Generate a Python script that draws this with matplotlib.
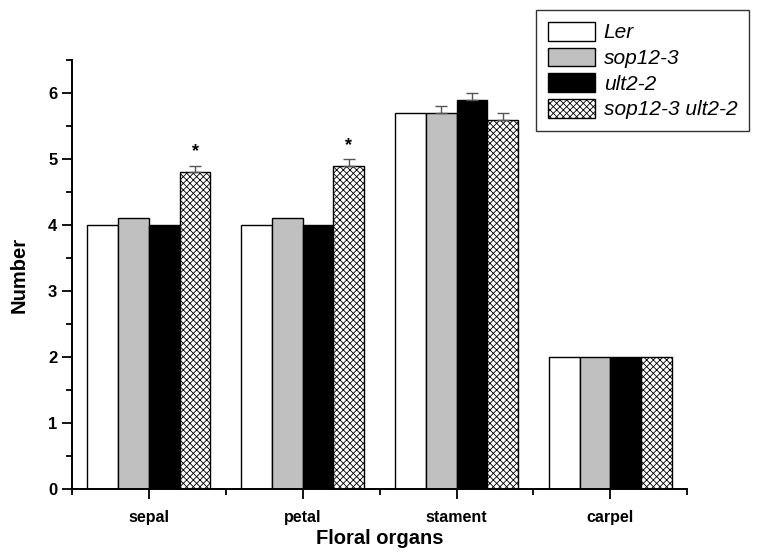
import numpy as np
import matplotlib
matplotlib.use("Agg")
import matplotlib.pyplot as plt

plt.rcParams['font.family'] = ['Liberation Sans', 'DejaVu Sans']
plt.rcParams['hatch.linewidth'] = 0.6
plt.rcParams['hatch.color'] = '#333333'

organs = ['sepal', 'petal', 'stament', 'carpel']
genotypes = ['Ler', 'sop12-3', 'ult2-2', 'sop12-3 ult2-2']
ler = [4.0, 4.0, 5.7, 2.0]
sop = [4.1, 4.1, 5.7, 2.0]
ult = [4.0, 4.0, 5.9, 2.0]
double = [4.8, 4.9, 5.6, 2.0]
err_ler = [0, 0, 0, 0]
err_sop = [0, 0, 0.1, 0]
err_ult = [0, 0, 0.1, 0]
err_double = [0.1, 0.1, 0.1, 0]
stars = ['*', '*', '', '']

fig = plt.figure(figsize=(7.57, 5.58), dpi=100)
ax = fig.add_axes([0.095, 0.124, 0.813, 0.768])

x = np.arange(len(organs))
w = 0.2
series = [ler, sop, ult, double]
errs = [err_ler, err_sop, err_ult, err_double]
styles = [dict(color='white'), dict(color='#c0c0c0'), dict(color='black'),
          dict(color='white', hatch='xxxxx')]
for i in range(4):
    pos = x + (i - 1.5) * w
    ax.bar(pos, series[i], w, edgecolor='black', linewidth=1.0,
           label=genotypes[i], **styles[i])
    e = np.array(errs[i])
    m = e > 0
    ax.errorbar(pos[m], np.array(series[i])[m], yerr=[np.zeros(m.sum()), e[m]],
                fmt='none', ecolor='#555555', elinewidth=1, capsize=4, capthick=1)

for j in range(len(organs)):
    if stars[j]:
        ax.text(x[j] + 1.5 * w, double[j] + err_double[j] + 0.08, stars[j],
                ha='center', va='bottom', fontsize=13, fontweight='bold')

ax.set_xlim(-0.5, 3.5)
ax.set_ylim(0, 6.5)
ax.set_xticks(x)
ax.set_xticklabels(organs, fontsize=11.5, fontweight='bold')
ax.set_xticks(np.arange(-0.5, 4, 1), minor=True)
ax.set_yticks(np.arange(0, 7, 1))
ax.set_yticklabels([str(v) for v in range(7)], fontsize=12, fontweight='bold')
ax.set_yticks(np.arange(0.5, 7, 1), minor=True)
ax.tick_params(axis='both', which='major', direction='out', length=7, width=1.3)
ax.tick_params(axis='both', which='minor', direction='out', length=4, width=1.3)
ax.tick_params(axis='x', which='major', pad=8)
ax.spines['top'].set_visible(False)
ax.spines['right'].set_visible(False)
ax.spines['left'].set_linewidth(1.4)
ax.spines['bottom'].set_linewidth(1.4)

ax.set_xlabel('Floral organs', fontsize=14.5, fontweight='bold', labelpad=3)
ax.set_ylabel('Number', fontsize=14.5, fontweight='bold', labelpad=14)

leg = fig.legend(loc='upper right', bbox_to_anchor=(1.003, 1.0), fontsize=15,
                 frameon=True, fancybox=False, edgecolor='black',
                 handlelength=2.3, handleheight=1.0, borderpad=0.55,
                 labelspacing=0.25, handletextpad=0.4)
leg.get_frame().set_linewidth(1.0)
for t in leg.get_texts():
    t.set_fontstyle('italic')

fig.savefig('out.png', dpi=100)
